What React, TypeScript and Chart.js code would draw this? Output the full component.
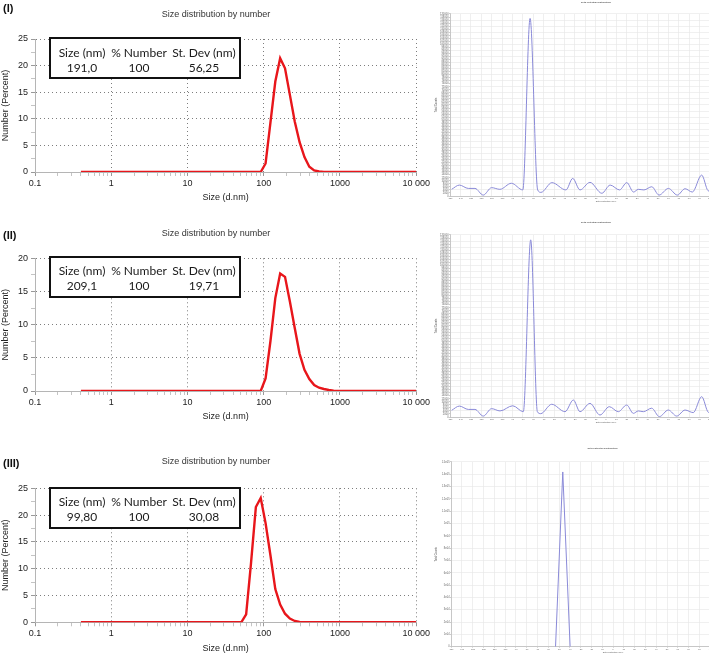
import React, { useEffect, useRef } from 'react';
import { Chart, registerables } from 'chart.js';

Chart.register(...registerables);
Chart.defaults.font.family = "'Liberation Sans', Arial, sans-serif";

// ---------- Size distribution by number (left panels) ----------
const sizeBins = [0.4, 50.75, 58.77, 68.06, 78.82, 91.28, 105.7, 122.4, 141.8, 164.2, 190.1, 220.2, 255.0, 295.3, 342.0, 396.1, 458.7, 531.2, 615.1, 712.4, 825.0, 955.4, 1106, 10000];
const numberI = [0, 0, 0, 0, 0, 0, 1.6, 9.3, 17.0, 21.4, 19.5, 14.5, 9.5, 5.6, 2.8, 1.0, 0.3, 0.1, 0.03, 0, 0, 0, 0, 0];
const numberII = [0, 0, 0, 0, 0, 0, 1.9, 7.5, 14.0, 17.7, 17.2, 13.5, 9.5, 5.6, 3.2, 1.8, 0.9, 0.5, 0.3, 0.15, 0.05, 0, 0, 0];
const numberIII = [0, 0, 1.5, 11.0, 21.5, 23.2, 18.5, 12.5, 6.2, 3.3, 1.6, 0.7, 0.25, 0.08, 0, 0, 0, 0, 0, 0, 0, 0, 0, 0];

const xTickValues = [0.1, 1, 10, 100, 1000, 10000];
const xTickLabels = ['0.1', '1', '10', '100', '1000', '10 000'];
const yTicksI = [0, 5, 10, 15, 20, 25];
const yTicksII = [0, 5, 10, 15, 20];
const yTicksIII = [0, 5, 10, 15, 20, 25];

const statHeaders = ['Size (nm)', '% Number', 'St. Dev (nm)'];
const statsI = ['191,0', '100', '56,25'];
const statsII = ['209,1', '100', '19,71'];
const statsIII = ['99,80', '100', '30,08'];

// ---------- Zeta potential distribution (right panels) ----------
const zetaXI = [-148.4, -141, -132.4, -126, -118, -110, -102, -91, -80, -73, -65.7, -62.5, -52, -38.5, -32, -25, -15.4, -4, 4, 13, 20, 26.5, 31, 36.5, 44, 51, 60, 68.6, 76, 83, 92, 98, 104];
const zetaCountsI = [4400, 7200, 5000, 5000, 600, 5500, 4400, 8400, 4000, 117100, 4000, 2400, 8800, 4000, 11600, 4000, 9000, 1800, 7200, 4000, 8800, 2600, 4400, 4000, 6100, 600, 5000, 600, 4800, 2600, 13800, 3600, 2400];
const zetaXII = [-148.4, -141, -132.4, -126, -118, -110, -101.9, -89.7, -79.5, -72.4, -66, -62.8, -52.2, -39.4, -31.4, -25, -15.4, -5.8, 3.2, 11.8, 19.9, 26.3, 31.1, 35.9, 43.9, 51.3, 59.9, 68, 76, 83.9, 92, 98.4, 104];
const zetaCountsII = [4400, 7200, 5000, 5000, 600, 5500, 4000, 7400, 3500, 116800, 3500, 2200, 8400, 3500, 11200, 3500, 9000, 1300, 6800, 3500, 7900, 2400, 4000, 3500, 5800, 240, 4600, 600, 4600, 2900, 13400, 3100, 2400];
const zetaXIII = [-53.2, -46.5, -39.7];
const zetaCountsIII = [0, 141900, 0];

const LINE_RED = '#e8161b';
const LINE_BLUE = '#8a8ad8';

type SizeProps = {
  top: number;
  height: number;
  plotTop: number;
  plotBottom: number;
  values: number[];
  yMax: number;
  yLabels: number[];
};

function SizeChart({ top, height, plotTop, plotBottom, values, yMax, yLabels }: SizeProps) {
  const ref = useRef<HTMLCanvasElement>(null);
  useEffect(() => {
    const axisH = height - plotBottom;
    const isMajorX = (v: number) => xTickValues.some((t) => Math.abs(t - v) < 1e-9 * Math.max(1, t));
    const isMajorY = (v: number) => yLabels.some((t) => Math.abs(t - v) < 1e-9);
    const chart = new Chart(ref.current as HTMLCanvasElement, {
      type: 'line',
      data: {
        datasets: [
          {
            data: sizeBins.map((x, i) => ({ x, y: values[i] })),
            borderColor: LINE_RED,
            borderWidth: 2.4,
            pointRadius: 0,
            tension: 0,
            fill: false,
          },
        ],
      },
      options: {
        animation: false,
        responsive: false,
        layout: { padding: { top: plotTop, left: 0, right: 14, bottom: 0 } },
        plugins: { legend: { display: false }, tooltip: { enabled: false }, title: { display: false } },
        scales: {
          x: {
            type: 'logarithmic',
            min: 0.1,
            max: 10000,
            afterBuildTicks: (s: any) => {
              const t: { value: number }[] = [];
              for (const d of [0.1, 1, 10, 100, 1000]) {
                for (let m = 1; m <= 9; m++) t.push({ value: d * m });
              }
              t.push({ value: 10000 });
              s.ticks = t;
            },
            afterFit: (s: any) => {
              s.height = axisH;
            },
            ticks: {
              autoSkip: false,
              maxRotation: 0,
              padding: 2,
              color: '#222',
              font: { size: 9 },
              callback: (v: any) => {
                const idx = xTickValues.findIndex((t) => Math.abs(t - v) < 1e-9 * Math.max(1, t));
                return idx >= 0 ? xTickLabels[idx] : '';
              },
            },
            grid: {
              color: (ctx: any) => (ctx.tick && isMajorX(ctx.tick.value) ? '#7d7d7d' : 'rgba(0,0,0,0)'),
              tickColor: (ctx: any) => (ctx.tick && isMajorX(ctx.tick.value) ? '#999' : '#c4c4c4'),
              tickLength: 4,
              lineWidth: 1,
            },
            border: { display: true, color: '#b5b5b5', dash: (ctx: any) => (ctx.type === 'tick' ? [1, 3] : []) },
            title: {
              display: true,
              text: 'Size (d.nm)',
              color: '#222',
              font: { size: 9 },
              padding: { top: 0, bottom: axisH - 26 - 5.4 },
            },
          },
          y: {
            type: 'linear',
            min: 0,
            max: yMax,
            afterBuildTicks: (s: any) => {
              const t: { value: number }[] = [];
              for (let v = 0; v <= yMax + 1e-9; v += 2.5) t.push({ value: v });
              s.ticks = t;
            },
            afterFit: (s: any) => {
              s.width = 35;
            },
            ticks: {
              autoSkip: false,
              padding: 3,
              color: '#222',
              font: { size: 9 },
              callback: (v: any) => (isMajorY(v) ? String(v) : ''),
            },
            grid: {
              color: (ctx: any) => (ctx.tick && isMajorY(ctx.tick.value) ? '#7d7d7d' : 'rgba(0,0,0,0)'),
              tickColor: (ctx: any) => (ctx.tick && isMajorY(ctx.tick.value) ? '#999' : '#c4c4c4'),
              tickLength: 4,
              lineWidth: 1,
            },
            border: { display: true, color: '#b5b5b5', dash: (ctx: any) => (ctx.type === 'tick' ? [1, 3] : []) },
            title: {
              display: true,
              text: 'Number (Percent)',
              color: '#222',
              font: { size: 9 },
              padding: { top: 0, bottom: 0 },
            },
          },
        },
      } as any,
    });
    return () => chart.destroy();
  }, []);
  return (
    <canvas
      ref={ref}
      width={432}
      height={height}
      style={{ position: 'absolute', left: 0, top, width: 432, height }}
    />
  );
}

type ZetaProps = {
  top: number;
  width: number;
  height: number;
  plotLeft: number;
  plotTop: number;
  plotBottom: number;
  titleY: number;
  padRight: number;
  xs: number[];
  ys: number[];
  yMax: number;
  yStep: number;
  yGridEvery: number;
  fmt: (v: number) => string;
  smooth: boolean;
};

function ZetaChart(p: ZetaProps) {
  const ref = useRef<HTMLCanvasElement>(null);
  useEffect(() => {
    const axisH = p.height - p.plotBottom;
    const chart = new Chart(ref.current as HTMLCanvasElement, {
      type: 'line',
      data: {
        datasets: [
          {
            data: p.xs.map((x, i) => ({ x, y: p.ys[i] })),
            borderColor: LINE_BLUE,
            borderWidth: 1,
            pointRadius: 0,
            tension: p.smooth ? 0.4 : 0,
            cubicInterpolationMode: p.smooth ? 'monotone' : 'default',
            fill: false,
          },
        ],
      },
      options: {
        animation: false,
        responsive: false,
        layout: { padding: { top: 0, left: 0, right: p.padRight, bottom: 0 } },
        plugins: {
          legend: { display: false },
          tooltip: { enabled: false },
          title: {
            display: true,
            text: 'Zeta Potential Distribution',
            color: '#555',
            font: { size: 2.4 },
            padding: { top: p.titleY - 1.45, bottom: p.plotTop - p.titleY - 1.45 },
          },
        },
        scales: {
          x: {
            type: 'linear',
            min: -150,
            max: 150,
            afterFit: (s: any) => {
              s.height = axisH;
            },
            ticks: {
              stepSize: 10,
              autoSkip: false,
              maxRotation: 0,
              padding: 0.4,
              color: '#666',
              font: { size: 2.4 },
              callback: (v: any) => String(v),
            },
            grid: { color: '#e4e4e4', tickColor: '#aaa', tickLength: 1, lineWidth: 0.6 },
            border: { color: '#bdbdbd', width: 0.8 },
            title: {
              display: true,
              text: 'Zeta Potential (mV)',
              color: '#555',
              font: { size: 2.4 },
              padding: { top: 0, bottom: axisH - 5.5 - 1.45 },
            },
          },
          y: {
            type: 'linear',
            min: 0,
            max: p.yMax,
            afterFit: (s: any) => {
              s.width = p.plotLeft;
            },
            ticks: {
              stepSize: p.yStep,
              autoSkip: false,
              padding: 0.4,
              color: '#666',
              font: { size: 2.6 },
              callback: (v: any) => p.fmt(Number(v)),
            },
            grid: {
              color: (ctx: any) =>
                !ctx.tick || Math.round(ctx.tick.value / p.yStep) % p.yGridEvery === 0 ? '#e6e6e6' : 'rgba(0,0,0,0)',
              tickColor: '#aaa',
              tickLength: 1,
              lineWidth: 0.6,
            },
            border: { color: '#bdbdbd', width: 0.8 },
            title: {
              display: true,
              text: 'Total Counts',
              color: '#555',
              font: { size: 2.6 },
              padding: { top: 4.4, bottom: 0 },
            },
          },
        },
      } as any,
    });
    return () => chart.destroy();
  }, []);
  return (
    <canvas
      ref={ref}
      width={p.width}
      height={p.height}
      style={{ position: 'absolute', left: 430, top: p.top, width: p.width, height: p.height }}
    />
  );
}

const colCenters = [33, 90, 155];

function StatsBox({ top, values }: { top: number; values: string[] }) {
  const cell = (text: string, i: number, row: number) => (
    <span
      key={`${row}-${i}`}
      style={{
        position: 'absolute',
        left: colCenters[i] - 2 - 50,
        width: 100,
        textAlign: 'center',
        top: (row === 0 ? 15.5 : 30.7) - 2 - 7,
        lineHeight: '14px',
        whiteSpace: 'nowrap',
      }}
    >
      {text}
    </span>
  );
  return (
    <div
      style={{
        position: 'absolute',
        left: 49,
        top,
        width: 192,
        height: 42,
        border: '2px solid #111',
        boxSizing: 'border-box',
        background: '#fff',
        fontFamily: 'Lato, "Noto Sans", sans-serif',
        fontSize: 12,
        color: '#1a1a1a',
      }}
    >
      {statHeaders.map((h, i) => cell(h, i, 0))}
      {values.map((v, i) => cell(v, i, 1))}
    </div>
  );
}

function PanelLabel({ top, text }: { top: number; text: string }) {
  return (
    <div
      style={{
        position: 'absolute',
        left: 3,
        top,
        fontFamily: "'Liberation Sans', Arial, sans-serif",
        fontWeight: 'bold',
        fontSize: 11,
        lineHeight: '12px',
        color: '#111',
      }}
    >
      {text}
    </div>
  );
}

function SizeTitle({ cy }: { cy: number }) {
  return (
    <div
      style={{
        position: 'absolute',
        left: 116,
        width: 200,
        top: cy - 6,
        textAlign: 'center',
        fontFamily: "'Liberation Sans', Arial, sans-serif",
        fontSize: 9,
        lineHeight: '12px',
        color: '#333',
        whiteSpace: 'nowrap',
      }}
    >
      Size distribution by number
    </div>
  );
}

const sciFmt = (v: number) => {
  if (v === 0) return '0';
  const exp = Math.floor(Math.log10(v) + 1e-9);
  const mant = v / Math.pow(10, exp);
  return `${+mant.toFixed(1)}e0${exp}`;
};

export default function App() {
  return (
    <div
      style={{
        position: 'absolute',
        left: 0,
        top: 0,
        width: 709,
        height: 657,
        overflow: 'hidden',
        background: '#fff',
      }}
    >
      <SizeChart top={0} height={212} plotTop={39} plotBottom={172} values={numberI} yMax={25} yLabels={yTicksI} />
      <SizeChart top={215} height={212} plotTop={43.3} plotBottom={176} values={numberII} yMax={20} yLabels={yTicksII} />
      <SizeChart top={430} height={227} plotTop={58.3} plotBottom={192.3} values={numberIII} yMax={25} yLabels={yTicksIII} />

      <ZetaChart top={0} width={354} height={212} plotLeft={20} plotTop={14} plotBottom={196} titleY={2} padRight={22}
        xs={zetaXI} ys={zetaCountsI} yMax={120000} yStep={2000} yGridEvery={2} fmt={(v) => String(v)} smooth />
      <ZetaChart top={215} width={354} height={212} plotLeft={20} plotTop={20} plotBottom={202} titleY={7} padRight={22}
        xs={zetaXII} ys={zetaCountsII} yMax={120000} yStep={2000} yGridEvery={2} fmt={(v) => String(v)} smooth />
      <ZetaChart top={430} width={360} height={227} plotLeft={21} plotTop={32} plotBottom={216.7} titleY={18} padRight={15}
        xs={zetaXIII} ys={zetaCountsIII} yMax={150000} yStep={10000} yGridEvery={1} fmt={sciFmt} smooth={false} />

      <PanelLabel top={2} text="(I)" />
      <PanelLabel top={229} text="(II)" />
      <PanelLabel top={457} text="(III)" />
      <SizeTitle cy={14} />
      <SizeTitle cy={233.3} />
      <SizeTitle cy={461} />
      <StatsBox top={37} values={statsI} />
      <StatsBox top={255.7} values={statsII} />
      <StatsBox top={486.7} values={statsIII} />
    </div>
  );
}
